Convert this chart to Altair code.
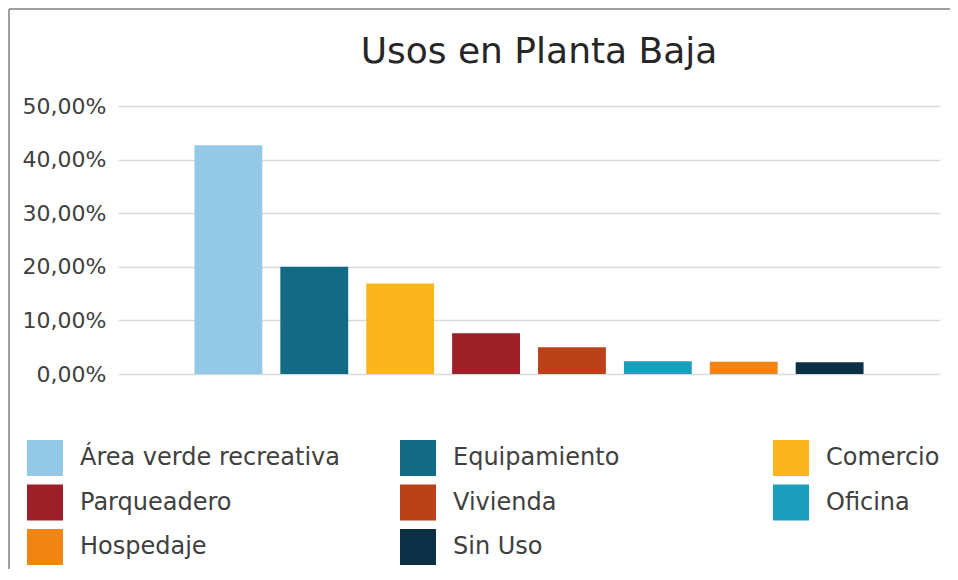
import altair as alt
import pandas as pd

titulo = "Usos en Planta Baja"
categorias = ["Área verde recreativa", "Equipamiento", "Comercio", "Parqueadero",
              "Vivienda", "Oficina", "Hospedaje", "Sin Uso"]
valores = [0.427, 0.200, 0.169, 0.076, 0.050, 0.024, 0.023, 0.022]
colores = ["#93C9E6", "#136A85", "#FAB61C", "#9D2028",
           "#BB4119", "#1C9FBD", "#F18513", "#0B2F45"]
ticks_y = [0, 0.1, 0.2, 0.3, 0.4, 0.5]

df = pd.DataFrame({"uso": categorias, "valor": valores})
marco = pd.DataFrame({"k": [0]})

FONT = "DejaVu Sans"

bars = alt.Chart(df).mark_bar().encode(
    x=alt.X("uso:N", sort=categorias, axis=None,
            scale=alt.Scale(paddingInner=0.21, paddingOuter=0.89)),
    y=alt.Y("valor:Q", title=None,
            scale=alt.Scale(domain=[0, 0.5], nice=False),
            axis=alt.Axis(values=ticks_y,
                          labelExpr="replace(format(datum.value, '.2%'), '.', ',')",
                          domain=False, ticks=False, labelPadding=12,
                          labelFontSize=22, labelFont=FONT, labelColor="#404040",
                          gridColor="#D9D9D9", gridWidth=1.5)),
    color=alt.Color("uso:N", sort=categorias,
                    scale=alt.Scale(domain=categorias, range=colores),
                    legend=alt.Legend(title=None, orient="none", legendX=-91, legendY=334,
                                      columns=3, direction="horizontal", gridAlign="all",
                                      columnPadding=59,
                                      rowPadding=8.5, symbolType="square",
                                      symbolSize=1296, symbolStrokeWidth=0,
                                      labelOffset=17, labelFontSize=24, labelFont=FONT,
                                      labelColor="#404040", labelLimit=400, padding=0)),
)

# chart title as text
texto_titulo = alt.Chart(marco).mark_text(
    font=FONT, fontSize=36, color="#262626", align="center", baseline="alphabetic"
).encode(x=alt.value(421), y=alt.value(-43), text=alt.value(titulo))

# chart frame (top and left border lines)
borde_sup = alt.Chart(marco).mark_rule(color="#808080", strokeWidth=1.5).encode(
    x=alt.value(-109), x2=alt.value(840), y=alt.value(-97))
borde_izq = alt.Chart(marco).mark_rule(color="#808080", strokeWidth=1.5).encode(
    x=alt.value(-109), y=alt.value(-97), y2=alt.value(470))

chart = alt.layer(bars, texto_titulo, borde_sup, borde_izq).properties(
    width=822, height=268,
    autosize=alt.AutoSizeParams(type="none"),
    padding={"left": 110, "top": 98, "right": 10, "bottom": 195},
).configure_view(stroke=None)

chart.save("out.html", embed_options={"renderer": "svg", "actions": False})
